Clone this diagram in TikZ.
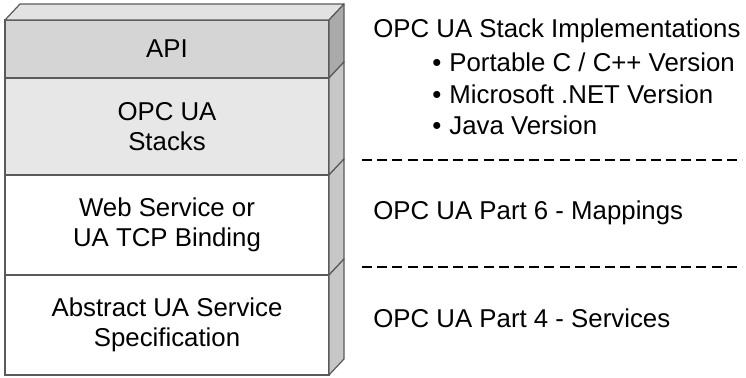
\documentclass[tikz,border=0pt]{standalone}
\usepackage{fontspec}
\setmainfont{Liberation Sans}
\usetikzlibrary{positioning,calc}

\definecolor{edgegray}{HTML}{5A5A5A}
\definecolor{topfill}{HTML}{E2E2E2}
\definecolor{apifill}{HTML}{D5D5D5}
\definecolor{stackfill}{HTML}{E7E7E7}
\definecolor{sidedark}{HTML}{AAAAAA}
\definecolor{sidelight}{HTML}{C7C7C7}

\begin{document}
\begin{tikzpicture}[
  x=0.5pt, y=-0.5pt,
  every node/.style={font=\fontsize{12.9}{15}\selectfont},
  layer/.style={draw=edgegray, line width=0.6pt, minimum width=162pt,
                inner sep=0pt, outer sep=0pt, align=center},
  face/.style={draw=edgegray, line width=0.6pt, line join=round},
  label/.style={anchor=west, inner sep=0pt},
  sep/.style={line width=0.7pt, dash pattern=on 5pt off 2.6pt}
]
  \useasboundingbox (0,0) rectangle (746,377);

  % stack layers
  \node[layer, fill=apifill, minimum height=29pt, anchor=north west]
    (api) at (5,20) {API};
  \node[layer, fill=stackfill, minimum height=48.5pt, below=0pt of api]
    (stacks) {OPC UA\\Stacks};
  \node[layer, fill=white, minimum height=50pt, below=0pt of stacks]
    (web) {Web Service or\\UA TCP Binding};
  \node[layer, fill=white, minimum height=50pt, below=0pt of web]
    (spec) {Abstract UA Service\\Specification};

  % top and side faces
  \draw[face, fill=topfill] (api.north west) -- ++(15,-16)
    -- ($(api.north east)+(15,-16)$) -- (api.north east) -- cycle;
  \foreach \n/\c in {api/sidedark, stacks/sidelight, web/sidelight, spec/sidelight}
    \draw[face, fill=\c] (\n.north east) -- ++(15,-16)
      -- ($(\n.south east)+(15,-16)$) -- (\n.south east) -- cycle;

  % descriptions
  \node[label] (impl) at (373,31) {OPC UA Stack Implementations};
  \node[label] (ansi) at (432,62) {•\hspace{4pt}Portable C / C++ Version};
  \node[label] (dotnet) at (432,94) {•\hspace{4pt}Microsoft .NET Version};
  \node[label] (java) at (432,125) {•\hspace{4pt}Java Version};
  \draw[sep] (362,160) -- (742,160);
  \node[label] (part6) at (373,213) {OPC UA Part 6 - Mappings};
  \draw[sep] (362,267) -- (742,267);
  \node[label] (part4) at (373,318) {OPC UA Part 4 - Services};
\end{tikzpicture}
\end{document}
